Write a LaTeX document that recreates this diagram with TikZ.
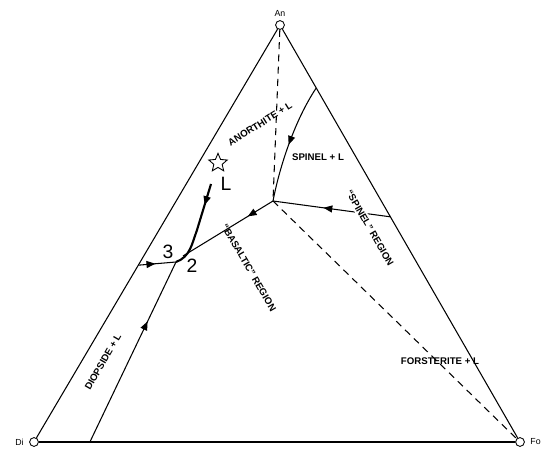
\documentclass[tikz,border=0pt]{standalone}
\usepackage{fontspec}
\setsansfont{Liberation Sans}
\usepackage{tikz}
\usetikzlibrary{positioning, arrows.meta, calc, shapes.geometric, decorations.markings}

\begin{document}
\begin{tikzpicture}[
    x=0.02cm, y=-0.02cm,
    vtx/.style={draw, circle, inner sep=0pt, minimum size=5pt, line width=0.5pt},
    edgeline/.style={line width=0.6pt},
    bdry/.style={line width=0.6pt},
    thickbdry/.style={line width=1.2pt},
    tie/.style={line width=0.6pt, dash pattern=on 4pt off 3pt},
    lbl/.style={font=\sffamily\bfseries\fontsize{5.5}{6}\selectfont, inner sep=1pt},
    corner/.style={font=\sffamily\fontsize{5}{6}\selectfont, inner sep=1pt},
    num/.style={font=\sffamily\fontsize{11}{12}\selectfont, inner sep=0pt},
    midarr/.style={postaction={decorate, decoration={markings,
        mark=at position #1 with {\arrow{Triangle[length=5pt, width=4pt]}}}}},
]
\useasboundingbox (0,0) rectangle (555,449);

% Vertices
\node[vtx] (an) at (280,25) {};
\node[vtx] (di) at (34,442) {};
\node[vtx] (fo) at (520,442) {};
\node[corner, above=1pt of an] (anlbl) {An};
\node[corner, left=2pt of di] (dilbl) {Di};
\node[corner, right=2pt of fo] (folbl) {Fo};

% Triangle
\draw[edgeline] (di) -- (an);
\draw[edgeline] (an) -- (fo);
\draw[line width=0.9pt] (di) -- (fo);

% Points on the edges and inside
\coordinate (lft) at ($(di)!0.424!(an)$);
\coordinate (rgt) at ($(an)!0.46!(fo)$);
\coordinate (sptop) at ($(an)!0.151!(fo)$);
\coordinate (base) at ($(di)!0.115!(fo)$);
\coordinate (j) at (273,201);
\coordinate (p) at (176,262);
\coordinate (bend) at (197,230);
\coordinate (bas) at (183,256);

% Tie lines
\draw[tie] (an) -- (j);
\draw[tie] (j) -- (fo);

% Boundary curves
\draw[bdry, midarr=0.67] (base) -- (p);
\draw[bdry, midarr=0.45] (lft) -- (p);
\draw[bdry, midarr=0.28] (j) -- (bas);
\draw[bdry, midarr=0.57] (rgt) -- (j);
\draw[bdry, midarr=0.52] (sptop) .. controls (295,120) and (280,165) .. (j);

% Liquid path
\node[star, star points=5, star point ratio=2.2, draw, line width=0.5pt,
      minimum size=11pt, inner sep=0pt] (lstar) at (218,163) {};
\node[num] (llbl) at (226,184) {L};
\coordinate (ltop) at (211,184);
\draw[thickbdry, midarr=0.25] (ltop) -- (bend) to[out=-110, in=20] (p);
\node[num] (pt3) at (168,252) {3};
\node[num] (pt2) at (192,266) {2};

% Field labels
\node[lbl, rotate=32] (anl) at (260,124) {ANORTHITE + L};
\node[lbl] (spl) at (318,157) {SPINEL + L};
\node[lbl, rotate=-60, fill=white] (spreg) at (370,228) {``SPINEL'' REGION};
\node[lbl, rotate=-60] (basreg) at (249,268) {``BASALTIC'' REGION};
\node[lbl, rotate=60] (dil) at (103,362) {DIOPSIDE + L};
\node[lbl] (fol) at (440,361) {FORSTERITE + L};

\end{tikzpicture}
\end{document}
